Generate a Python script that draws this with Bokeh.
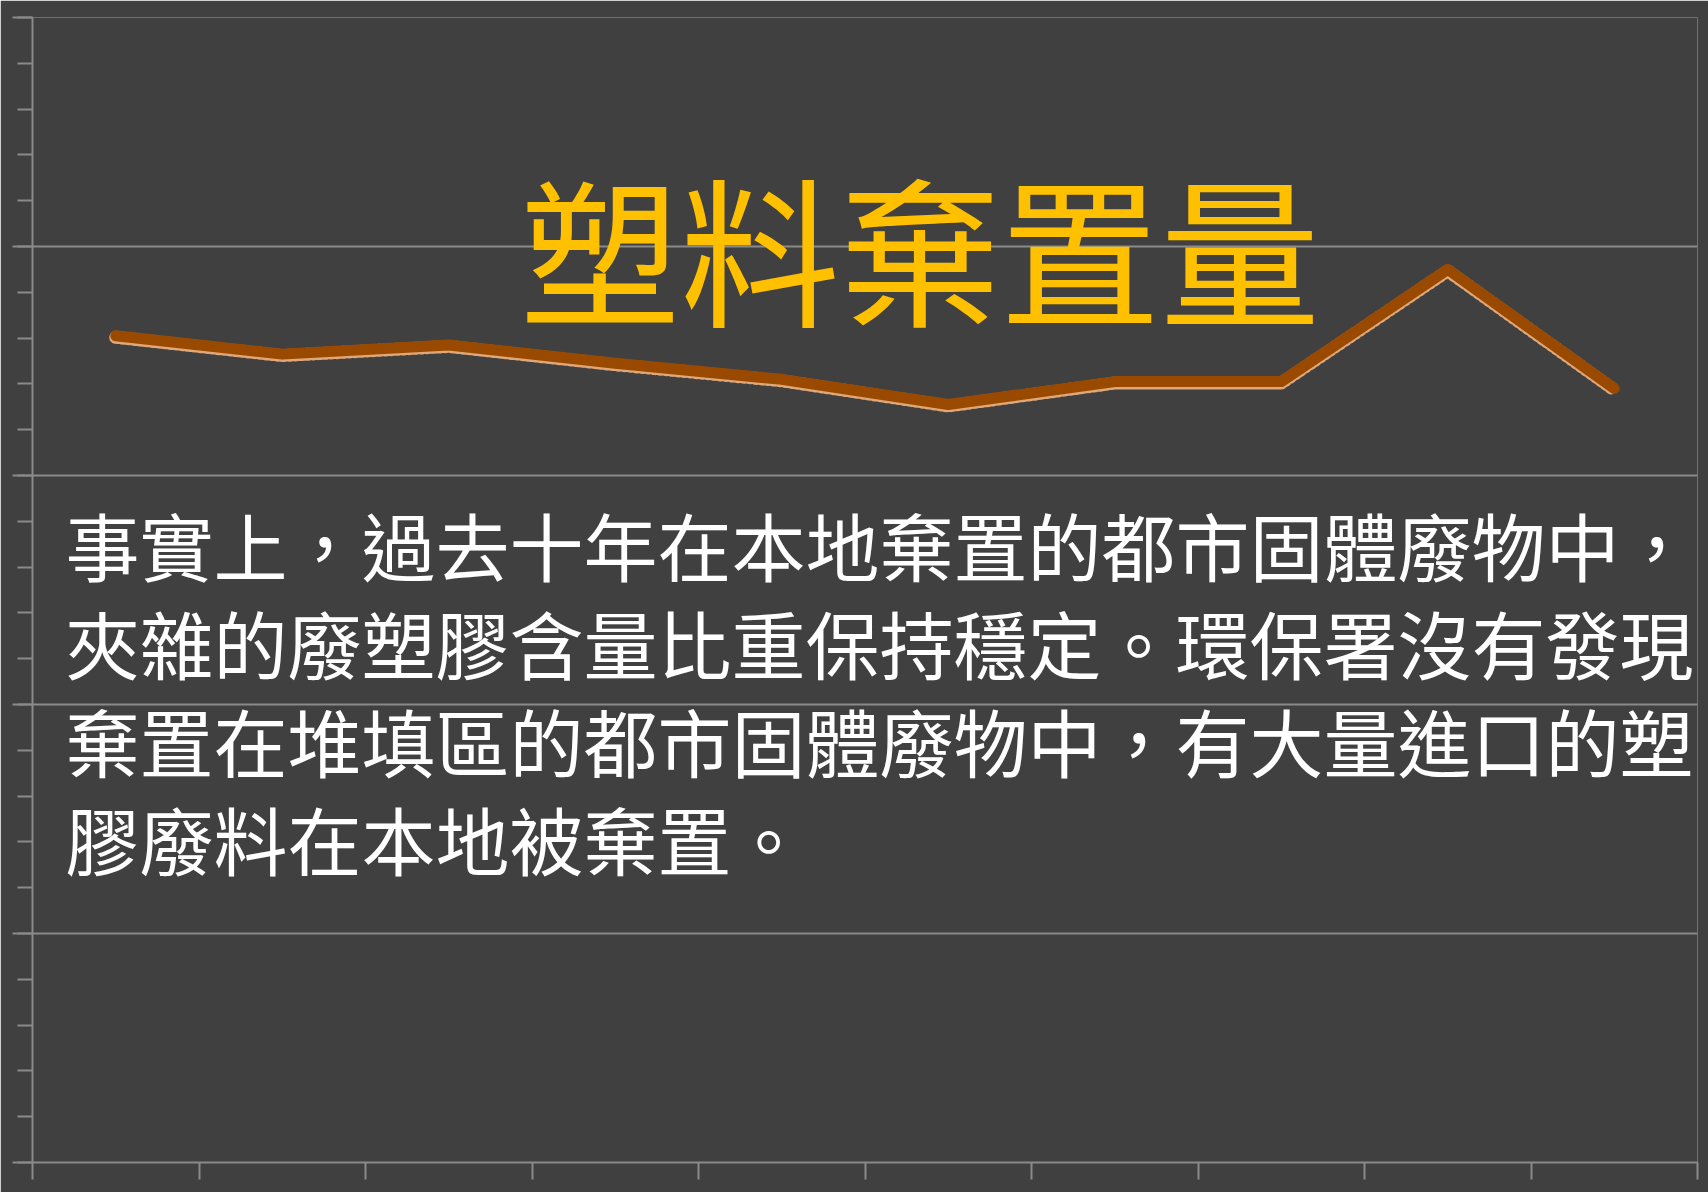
from bokeh.plotting import figure
from bokeh.models import (Range1d, SingleIntervalTicker, FixedTicker, Label,
                          ColumnDataSource, CustomJSTickFormatter)
from bokeh.embed import file_html
from bokeh.resources import INLINE

# ---- data ----
years = ["2008", "2009", "2010", "2011", "2012", "2013", "2014", "2015", "2016", "2017"]
plastic_share = [36.1, 35.3, 35.7, 34.9, 34.2, 33.1, 34.1, 34.1, 39.0, 33.8]
title_text = "塑料棄置量"
body_lines = [
    "事實上，過去十年在本地棄置的都市固體廢物中，",
    "夾雜的廢塑膠含量比重保持穩定。環保署沒有發現",
    "棄置在堆填區的都市固體廢物中，有大量進口的塑",
    "膠廢料在本地被棄置。",
]

BG = "#404040"
AX = "#8a8a8a"
FONT = "Noto Sans CJK TC"

n = len(years)
xs = [i + 0.5 for i in range(n)]
y_max = 50
px_per_unit = 1145 / y_max
shadow_shift = 1.5 / px_per_unit

src = ColumnDataSource(dict(
    x=xs,
    y=plastic_share,
    ys=[v - shadow_shift for v in plastic_share],
))

p = figure(width=1708, height=1192, output_backend="svg", toolbar_location=None,
           x_range=Range1d(0, n), y_range=Range1d(0, y_max),
           background_fill_color=BG, border_fill_color=BG,
           min_border_left=32, min_border_top=17, min_border_right=11, min_border_bottom=30)
p.outline_line_color = None

blank = CustomJSTickFormatter(code="return '';")

# grid
p.xgrid.visible = False
p.ygrid.grid_line_color = AX
p.ygrid.grid_line_width = 2

# y axis
p.yaxis.ticker = SingleIntervalTicker(interval=10, num_minor_ticks=5)
p.yaxis.formatter = blank
p.yaxis.axis_line_color = AX
p.yaxis.axis_line_width = 2
p.yaxis.major_tick_line_color = AX
p.yaxis.major_tick_line_width = 2
p.yaxis.major_tick_out = 20
p.yaxis.major_tick_in = 0
p.yaxis.minor_tick_line_color = AX
p.yaxis.minor_tick_line_width = 2
p.yaxis.minor_tick_out = 15
p.yaxis.minor_tick_in = 0
p.yaxis.major_label_text_font_size = "1px"
p.yaxis.major_label_standoff = 0

# x axis
p.xaxis.ticker = FixedTicker(ticks=list(range(n + 1)))
p.xaxis.formatter = blank
p.xaxis.axis_line_color = AX
p.xaxis.axis_line_width = 2
p.xaxis.major_tick_line_color = AX
p.xaxis.major_tick_line_width = 2
p.xaxis.major_tick_out = 17
p.xaxis.major_tick_in = 0
p.xaxis.minor_tick_line_color = None
p.xaxis.major_label_text_font_size = "1px"
p.xaxis.major_label_standoff = 0

# line with light dotted fringe
p.line("x", "ys", source=src, line_color="#e0a878", line_width=13,
       line_dash="2 4", line_join="round", line_cap="round")
p.line("x", "y", source=src, line_color="#9a4a00", line_width=11,
       line_join="round", line_cap="round")

# title text
p.add_layout(Label(x=5.33, y=40.07, text=title_text, text_font=FONT,
                   text_font_size="160px", text_color="#ffc000",
                   text_align="center", text_baseline="middle"))

# body text
top_y = 27.03
step = 98 / px_per_unit
for i, line in enumerate(body_lines):
    p.add_layout(Label(x=0.198, y=top_y - i * step, text=line, text_font=FONT,
                       text_font_size="74px", text_color="#ffffff",
                       text_align="left", text_baseline="middle"))

open("out.html", "w").write(file_html(p, INLINE))
